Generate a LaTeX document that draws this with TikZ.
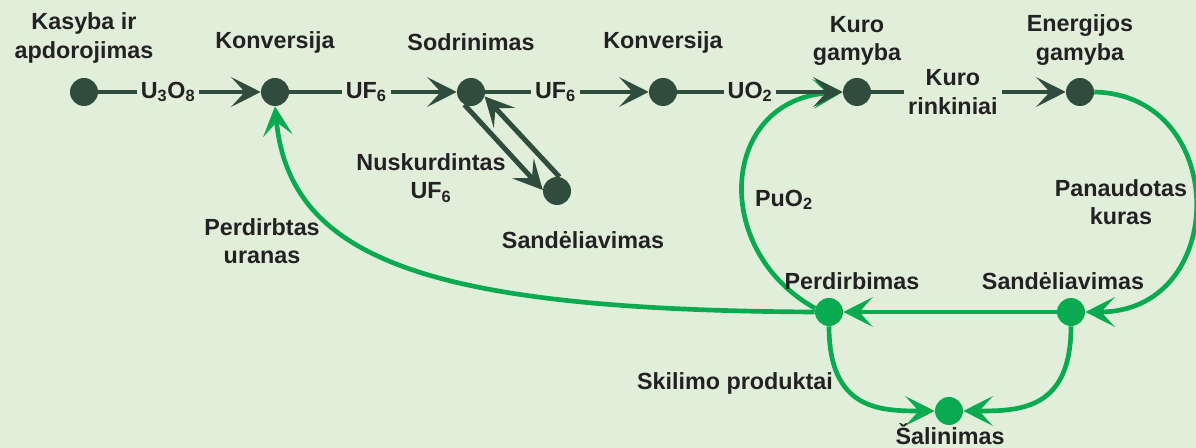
\documentclass[tikz,border=0pt]{standalone}
\usepackage{fontspec}
\setmainfont{Liberation Sans}
\usetikzlibrary{arrows.meta}
\definecolor{bg}{RGB}{225,238,218}
\definecolor{dk}{RGB}{47,76,60}
\definecolor{gr}{RGB}{10,170,80}
\definecolor{txt}{RGB}{34,34,34}
\begin{document}
\begin{tikzpicture}[x=0.75pt,y=-0.75pt,
  dot/.style={circle,fill=#1,minimum size=21pt,inner sep=0pt},
  lbl/.style={font=\bfseries\fontsize{17.5}{21.5}\selectfont,text=txt,align=center,inner sep=1pt},
  elbl/.style={lbl,fill=bg,inner sep=3pt},
  tip/.style={-{Stealth[length=22pt,width=22pt,inset=10pt]}},
  darr/.style={draw=dk,line width=3.7pt},
  garr/.style={draw=gr,line width=3.5pt},
]
\fill[bg] (0,0) rectangle (1196,448);
\useasboundingbox (0,0) rectangle (1196,448);
% dots
\node[dot=dk] (mine) at (84,92) {};
\node[dot=dk] (conv1) at (275,92) {};
\node[dot=dk] (enr) at (471,92) {};
\node[dot=dk] (conv2) at (663,92) {};
\node[dot=dk] (fuel) at (857,92) {};
\node[dot=dk] (energy) at (1080,92) {};
\node[dot=dk] (store) at (557,191) {};
\node[dot=gr] (perd) at (829,312) {};
\node[dot=gr] (sand) at (1071,312) {};
\node[dot=gr] (sal) at (949,411) {};
% green flows
\draw[garr,tip] (energy.east) .. controls (1230,95) and (1230,312) .. (sand.east);
\draw[garr,tip] (sand) -- (perd);
\draw[garr,tip] (perd.west) .. controls (430,310) and (290,260) .. (conv1.south);
\draw[garr,tip] (perd.165) .. controls (710,250) and (720,100) .. (fuel.west);
\draw[garr,tip] (perd.south) .. controls (829,410) and (880,411) .. (sal.west);
\draw[garr,tip] (sand.south) .. controls (1071,410) and (1020,411) .. (sal.east);
% dark flows
\draw[darr,tip] (mine) -- node[elbl,pos=0.43] (l1) {U\textsubscript{3}O\textsubscript{8}} (conv1);
\draw[darr,tip] (conv1) -- node[elbl,pos=0.46] (l2) {UF\textsubscript{6}} (enr);
\draw[darr,tip] (enr) -- node[elbl,pos=0.43] (l3) {UF\textsubscript{6}} (conv2);
\draw[darr,tip] (conv2) -- node[elbl,pos=0.44] (l4) {UO\textsubscript{2}} (fuel);
\draw[darr,tip] (fuel) -- node[elbl,pos=0.42] (l5) {Kuro\\rinkiniai} (energy);
\draw[darr,tip] (enr.-118) -- (store.176);
\draw[darr,tip] (store.80) -- (enr.-18);
% labels
\node[lbl] (tmine) at (84,38) {Kasyba ir\\apdorojimas};
\node[lbl] (tconv1) at (275,42) {Konversija};
\node[lbl] (tenr) at (471,42) {Sodrinimas};
\node[lbl] (tconv2) at (663,42) {Konversija};
\node[lbl] (tfuel) at (857,41) {Kuro\\gamyba};
\node[lbl] (tenergy) at (1080,40) {Energijos\\gamyba};
\node[lbl] (tstore) at (583,240) {Sandėliavimas};
\node[lbl] (tdep) at (431,178) {Nuskurdintas\\UF\textsubscript{6}};
\node[lbl] (tperdu) at (262,241) {Perdirbtas\\uranas};
\node[lbl] (tpuo) at (784,200) {PuO\textsubscript{2}};
\node[lbl] (tspent) at (1121,202) {Panaudotas\\kuras};
\node[lbl] (tperd) at (852,281) {Perdirbimas};
\node[lbl] (tsand) at (1063,281) {Sandėliavimas};
\node[lbl] (tsplit) at (735,383) {Skilimo produktai};
\node[lbl] (tsal) at (950,434) {Šalinimas};
\end{tikzpicture}
\end{document}
